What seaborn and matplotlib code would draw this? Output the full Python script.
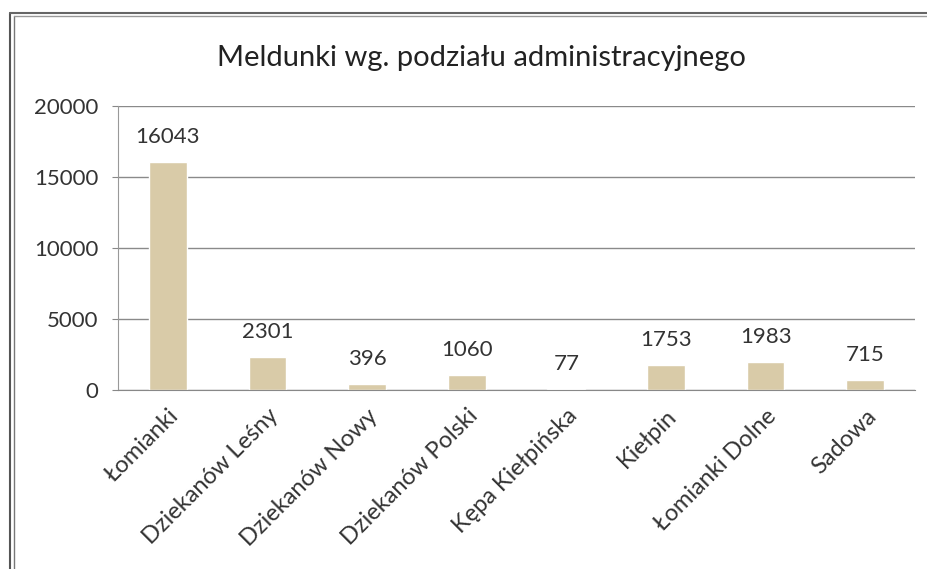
import matplotlib
matplotlib.use("Agg")
import matplotlib.pyplot as plt
import seaborn as sns
import pandas as pd
from matplotlib.lines import Line2D

categories = ["Łomianki", "Dziekanów Leśny", "Dziekanów Nowy", "Dziekanów Polski",
              "Kępa Kiełpińska", "Kiełpin", "Łomianki Dolne", "Sadowa"]
values = [16043, 2301, 396, 1060, 77, 1753, 1983, 715]
y_ticks = [0, 5000, 10000, 15000, 20000]

df = pd.DataFrame({"miejscowosc": categories, "meldunki": values})

sns.set_style("white")
plt.rcParams["font.family"] = ["Lato", "DejaVu Sans"]

fig = plt.figure(figsize=(9.28, 5.69), dpi=100)
ax = fig.add_axes([118 / 928, 1 - 390 / 569, 797 / 928, 284 / 569])

sns.barplot(data=df, x="miejscowosc", y="meldunki", color="#d9cba8",
            width=0.38, saturation=1, ax=ax)

ax.set_ylim(0, 20000)
ax.set_xlim(-0.5, len(categories) - 0.5)
ax.set_yticks(y_ticks)
ax.set_yticklabels([str(t) for t in y_ticks], fontsize=16, color="#333333")
ax.yaxis.grid(True, color="#8a8a8a", linewidth=1)
ax.set_axisbelow(True)

# tick marks between categories, Excel style
ax.set_xticks([i - 0.5 for i in range(len(categories) + 1)], minor=True)
ax.tick_params(axis="x", which="minor", length=6, color="#888888", width=1)
ax.tick_params(axis="x", which="major", length=0, pad=11)
ax.tick_params(axis="y", length=4, color="#888888", left=True, pad=10)
ax.set_xticks(range(len(categories)))
ax.set_xticklabels(categories, rotation=45, ha="right", rotation_mode="anchor",
                   fontsize=17, color="#333333")

for s in ["top", "right"]:
    ax.spines[s].set_visible(False)
ax.spines["left"].set_color("#999999")
ax.spines["bottom"].set_color("#888888")

for i, v in enumerate(values):
    ax.annotate(str(v), (i, v), xytext=(0, 11), textcoords="offset points",
                ha="center", va="bottom", fontsize=16, color="#333333")

ax.set_xlabel("")
ax.set_ylabel("")
fig.text(481 / 928, 1 - 58 / 569, "Meldunki wg. podziału administracyjnego",
         ha="center", va="center", fontsize=21, color="#222222")

# chart frame
fig.add_artist(Line2D([10 / 928, 10 / 928], [0, 1 - 13 / 569], color="#555555", lw=1.5))
fig.add_artist(Line2D([14 / 928, 14 / 928], [0, 1 - 16 / 569], color="#777777", lw=1))
fig.add_artist(Line2D([10 / 928, 1], [1 - 13 / 569, 1 - 13 / 569], color="#666666", lw=1.5))
fig.add_artist(Line2D([14 / 928, 1], [1 - 16 / 569, 1 - 16 / 569], color="#999999", lw=1))

fig.savefig("out.png", dpi=100)
